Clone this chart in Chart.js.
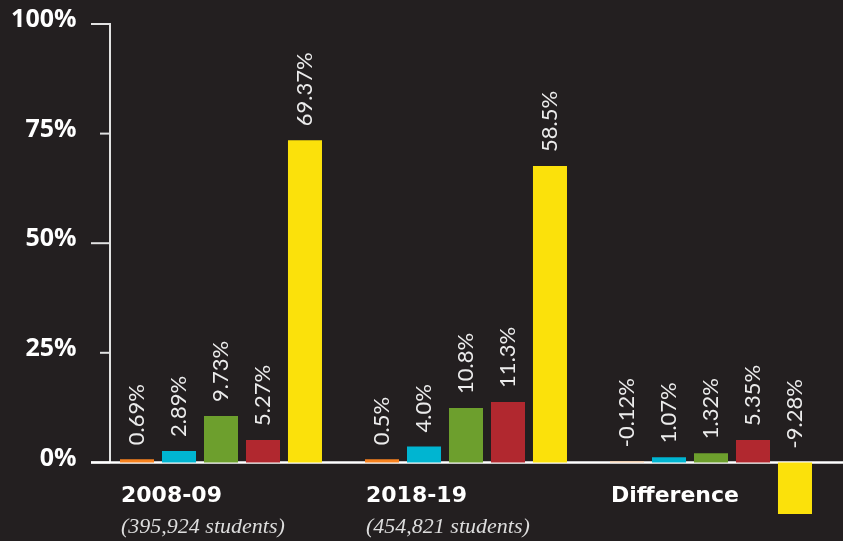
<!DOCTYPE html>
<html>
<head>
<meta charset="utf-8">
<script src="https://cdn.jsdelivr.net/npm/chart.js@4/dist/chart.umd.min.js"></script>
<style>
  html, body { margin: 0; padding: 0; background: #231f20; }
  canvas { display: block; }
</style>
</head>
<body>
<canvas id="chart" width="843" height="541"></canvas>
<script>
// categories + sub labels
const years = ['2008-09', '2018-19', 'Difference'];
const studentCounts = ['(395,924 students)', '(454,821 students)', ''];

// bar heights as drawn in the picture
const orangeVals = [0.7, 0.7, 0.25];
const blueVals   = [2.6, 3.65, 1.15];
const greenVals  = [10.6, 12.4, 2.1];
const redVals    = [5.1, 13.8, 5.1];
const yellowVals = [73.5, 67.6, -11.8];

// printed value labels
const orangeText = ['0.69%', '0.5%', '-0.12%'];
const blueText   = ['2.89%', '4.0%', '1.07%'];
const greenText  = ['9.73%', '10.8%', '1.32%'];
const redText    = ['5.27%', '11.3%', '5.35%'];
const yellowText = ['69.37%', '58.5%', '-9.28%'];

const yTicks = [0, 25, 50, 75, 100];

const labelTexts = [orangeText, blueText, greenText, redText, yellowText];

// axis line, tick marks and the zero line
const axisPlugin = {
    id: 'axisLines',
    beforeDatasetsDraw(chart) {
        const ctx = chart.ctx;
        const y = chart.scales.y;
        const ax = 110;
        ctx.save();
        ctx.strokeStyle = '#e2e2e2';
        ctx.lineWidth = 2;
        ctx.beginPath();
        ctx.moveTo(ax, y.getPixelForValue(100) - 1);
        ctx.lineTo(ax, y.getPixelForValue(0));
        ctx.stroke();
        yTicks.forEach(v => {
            const py = y.getPixelForValue(v);
            const start = (v % 50 === 0) ? 91 : 100;
            ctx.beginPath();
            ctx.moveTo(start, py);
            ctx.lineTo(ax, py);
            ctx.stroke();
        });
        ctx.strokeStyle = '#ffffff';
        ctx.lineWidth = 2.5;
        ctx.beginPath();
        ctx.moveTo(91, y.getPixelForValue(0));
        ctx.lineTo(chart.width, y.getPixelForValue(0));
        ctx.stroke();
        ctx.restore();
    }
};

// rotated value labels + category labels under the groups
const textPlugin = {
    id: 'texts',
    afterDatasetsDraw(chart) {
        const ctx = chart.ctx;
        const y = chart.scales.y;
        ctx.save();
        ctx.fillStyle = '#ececec';
        ctx.font = '400 22px Lato';
        ctx.textAlign = 'left';
        ctx.textBaseline = 'middle';
        chart.data.datasets.forEach((ds, di) => {
            const meta = chart.getDatasetMeta(di);
            meta.data.forEach((bar, i) => {
                const top = Math.min(bar.y, y.getPixelForValue(0));
                ctx.save();
                ctx.translate(bar.x, top - 14);
                ctx.rotate(-Math.PI / 2);
                ctx.fillText(labelTexts[di][i], 0, 0);
                ctx.restore();
            });
        });

        const first = chart.getDatasetMeta(0);
        ctx.textBaseline = 'alphabetic';
        first.data.forEach((bar, i) => {
            const left = bar.x - bar.width / 2 + 1;
            ctx.fillStyle = '#ffffff';
            ctx.font = 'bold 22px "DejaVu Sans"';
            ctx.fillText(years[i], left, 502);
            ctx.fillStyle = '#dddddd';
            ctx.font = 'italic 22px "Liberation Serif"';
            ctx.fillText(studentCounts[i], left, 533);
        });
        ctx.restore();
    }
};

const ctx = document.getElementById('chart').getContext('2d');
const chart = new Chart(ctx, {
    type: 'bar',
    data: {
        labels: years,
        datasets: [
            { label: 'orange', data: orangeVals, backgroundColor: ['#f7821f', '#f7821f', '#f9cfa9'] },
            { label: 'blue', data: blueVals, backgroundColor: '#00b5d1' },
            { label: 'green', data: greenVals, backgroundColor: '#6d9f2d' },
            { label: 'red', data: redVals, backgroundColor: '#b1282f' },
            { label: 'yellow', data: yellowVals, backgroundColor: '#fbe10b' }
        ]
    },
    options: {
        responsive: false,
        animation: false,
        devicePixelRatio: 1,
        categoryPercentage: 0.857,
        barPercentage: 0.81,
        layout: { padding: { top: 24, right: 9.5, bottom: 26, left: 0 } },
        plugins: {
            legend: { display: false },
            tooltip: { enabled: false }
        },
        scales: {
            x: { display: false },
            y: {
                min: -12,
                max: 100,
                afterBuildTicks: s => { s.ticks = yTicks.map(v => ({ value: v })); },
                afterFit: s => {
                    s.width = 98.5;
                    s.paddingTop = 0;
                    s.paddingBottom = 0;
                },
                grid: { display: false },
                border: { display: false },
                ticks: {
                    color: '#ffffff',
                    font: { family: 'Open Sans', weight: 'bold', size: 25 },
                    padding: 14,
                    labelOffset: -4,
                    callback: v => v + '%'
                }
            }
        }
    },
    plugins: [axisPlugin, textPlugin]
});
</script>
</body>
</html>
